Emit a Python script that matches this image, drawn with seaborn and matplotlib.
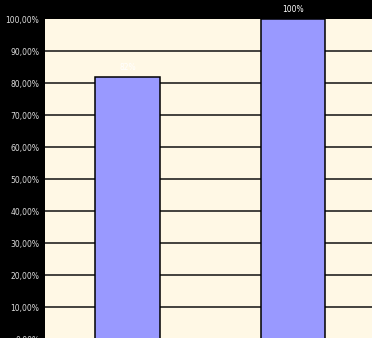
import matplotlib
matplotlib.use("Agg")
import matplotlib.pyplot as plt
import seaborn as sns
import pandas as pd

categories = ["Série 1", "Série 2"]
values = [82, 100]
value_labels = ["82%", "100%"]
tick_values = [0, 10, 20, 30, 40, 50, 60, 70, 80, 90, 100]
tick_labels = ["0,00%", "10,00%", "20,00%", "30,00%", "40,00%", "50,00%",
               "60,00%", "70,00%", "80,00%", "90,00%", "100,00%"]

df = pd.DataFrame({"cat": categories, "val": values})

sns.set_style("white")
plt.rcParams["font.family"] = ["DejaVu Sans"]

fig = plt.figure(figsize=(3.72, 3.38), dpi=100)
fig.patch.set_facecolor("black")
ax = fig.add_axes([45 / 372, -1 / 338, 1 - 45 / 372, 320 / 338])
ax.set_facecolor("#FFF8E5")

# horizontal grid lines behind the bars
for t in tick_values[1:-1]:
    ax.axhline(t, color="#111111", linewidth=1.1, zorder=1)

sns.barplot(data=df, x="cat", y="val", color="#9999FF", saturation=1,
            edgecolor="black", linewidth=1.1, width=0.39, ax=ax, zorder=3)

# value labels above each bar
for i, (v, lab) in enumerate(zip(values, value_labels)):
    ax.text(i, v + 1.5, lab, ha="center", va="bottom", fontsize=5.5,
            color="white", clip_on=False, zorder=4)

ax.set_xlim(-0.5, 1.48)
ax.set_ylim(0, 100)
ax.set_yticks(tick_values)
ax.set_yticklabels(tick_labels, fontsize=5.5, color="#DDDDDD")
ax.tick_params(axis="y", length=0, pad=4)
ax.set_xticks([])
ax.set_xlabel("")
ax.set_ylabel("")
for s in ax.spines.values():
    s.set_visible(False)

fig.savefig("out.png", dpi=100, facecolor=fig.get_facecolor())
